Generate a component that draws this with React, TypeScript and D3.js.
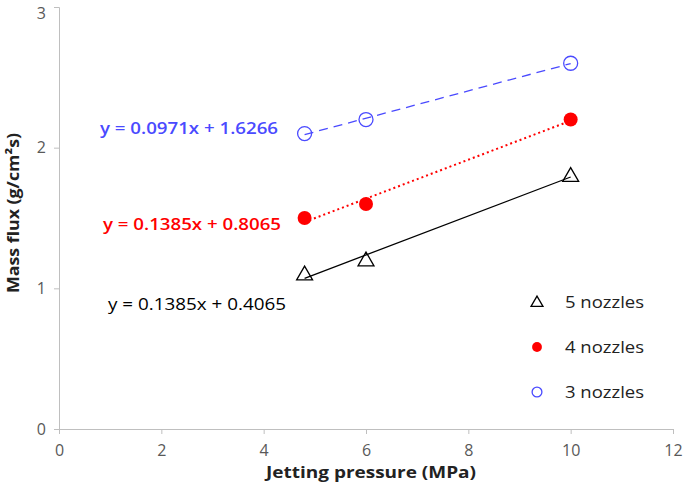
import React, { useEffect, useRef } from 'react';
import * as d3 from 'd3';

const pressure = [4.8, 6, 10];
const nozzles5 = [1.1, 1.2, 1.8];
const nozzles4 = [1.5, 1.6, 2.2];
const nozzles3 = [2.1, 2.2, 2.6];
const xTicks = [0, 2, 4, 6, 8, 10, 12];
const yTicks = [0, 1, 2, 3];
const seriesNames = ['5 nozzles', '4 nozzles', '3 nozzles'];

function fit(xs: number[], ys: number[]) {
  const mx = d3.mean(xs)!, my = d3.mean(ys)!;
  const sxy = d3.sum(xs, (x, i) => (x - mx) * (ys[i] - my));
  const sxx = d3.sum(xs, x => (x - mx) ** 2);
  const slope = sxy / sxx;
  return { slope, intercept: my - slope * mx };
}

export default function App() {
  const ref = useRef<SVGSVGElement>(null);

  useEffect(() => {
    const svg = d3.select(ref.current);
    svg.selectAll('*').remove();
    const x = d3.scaleLinear().domain([0, 12]).range([59, 673]);
    const y = d3.scaleLinear().domain([0, 3]).range([429, 7]);
    const font = '"Open Sans", Lato, sans-serif';
    const axisColor = '#bfbfbf';

    // axes
    const ax = svg.append('g').attr('transform', `translate(0,${y(0)})`).call(d3.axisBottom(x).tickValues(xTicks).tickSize(5).tickPadding(8));
    const ay = svg.append('g').attr('transform', `translate(${x(0)},0)`).call(d3.axisLeft(y).tickValues(yTicks).tickFormat(d3.format('d')).tickSize(5).tickPadding(8));
    [ax, ay].forEach(g => {
      g.select('.domain').attr('stroke', axisColor);
      g.selectAll('.tick line').attr('stroke', axisColor);
      g.selectAll('.tick text').attr('fill', '#595959').style('font-family', font).style('font-size', '16px');
    });
    ax.selectAll('.tick text').attr('dy', '0.9em');
    // top label would be clipped by the svg edge otherwise
    ay.selectAll('.tick text').filter(d => d === 3).attr('dy', '0.72em');

    svg.append('text').attr('x', 371).attr('y', 478).attr('text-anchor', 'middle')
      .style('font-family', font).style('font-weight', 'bold').style('font-size', '16px').attr('fill', '#222')
      .attr('textLength', 210).attr('lengthAdjust', 'spacingAndGlyphs')
      .text('Jetting pressure (MPa)');
    svg.append('text').attr('transform', 'translate(19,213) rotate(-90)').attr('text-anchor', 'middle')
      .style('font-family', font).style('font-weight', 'bold').style('font-size', '16px').attr('fill', '#222')
      .attr('textLength', 160).attr('lengthAdjust', 'spacingAndGlyphs')
      .text('Mass flux (g/cm²s)');

    const series = [
      { ys: nozzles5, color: '#000', dash: null, label: [108, 310], weight: 400 },
      { ys: nozzles4, color: '#ff0000', dash: '2,3', label: [103, 230], weight: 600 },
      { ys: nozzles3, color: '#4a4aff', dash: '9,6', label: [100, 134], weight: 600 },
    ];

    series.forEach(s => {
      const f = fit(pressure, s.ys);
      const x0 = d3.min(pressure)!, x1 = d3.max(pressure)!;
      svg.append('line')
        .attr('x1', x(x0)).attr('y1', y(f.slope * x0 + f.intercept))
        .attr('x2', x(x1)).attr('y2', y(f.slope * x1 + f.intercept))
        .attr('stroke', s.color).attr('stroke-width', s.dash === '2,3' ? 2 : 1.3)
        .attr('stroke-dasharray', s.dash);
      svg.append('text').attr('x', s.label[0]).attr('y', s.label[1])
        .attr('fill', s.color).style('font-family', font).style('font-size', '16.5px').style('font-weight', s.weight)
        .attr('textLength', 178).attr('lengthAdjust', 'spacingAndGlyphs')
        .text(`y = ${f.slope.toFixed(4)}x + ${f.intercept.toFixed(4)}`);
    });

    const drawMarker = (i: number, cx: number, cy: number, scale = 1) => {
      if (i === 0) {
        svg.append('path').attr('d', d3.symbol().type(d3.symbolTriangle).size(110 * scale * scale)())
          .attr('transform', `translate(${cx},${cy + 1})`).attr('fill', 'none').attr('stroke', '#000').attr('stroke-width', 1.3);
      } else if (i === 1) {
        svg.append('circle').attr('cx', cx).attr('cy', cy).attr('r', 7 * scale).attr('fill', '#ff0000');
      } else {
        svg.append('circle').attr('cx', cx).attr('cy', cy).attr('r', 7 * scale).attr('fill', 'none').attr('stroke', '#4a4aff').attr('stroke-width', 1.3);
      }
    };
    series.forEach((s, i) => {
      pressure.forEach((p, j) => drawMarker(i, x(p), y(s.ys[j])));
    });

    // legend
    const legendY = [302, 347, 392];
    seriesNames.forEach((name, i) => {
      drawMarker(i, 537, legendY[i], i === 0 ? 0.75 : 0.7);
      svg.append('text').attr('x', 565).attr('y', legendY[i]).attr('dy', '0.35em')
        .style('font-family', font).style('font-size', '16px').attr('fill', '#222')
        .attr('textLength', 79).attr('lengthAdjust', 'spacingAndGlyphs').text(name);
    });
  }, []);

  return (
    <div style={{ position: 'absolute', left: 0, top: 0, background: '#fff' }}>
      <svg ref={ref} width={685} height={488} style={{ display: 'block' }} />
    </div>
  );
}
